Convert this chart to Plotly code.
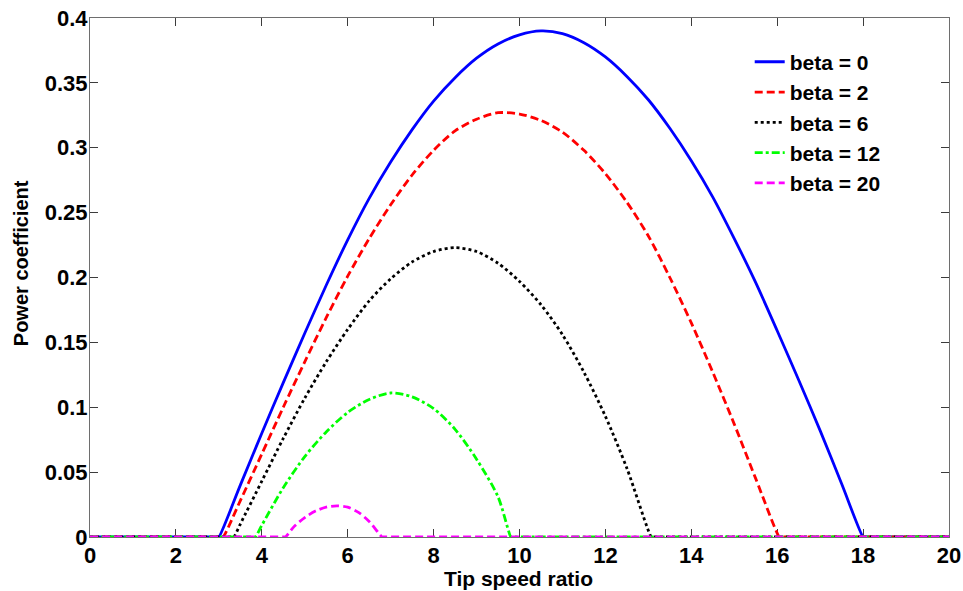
import plotly.graph_objects as go

# Power coefficient vs tip speed ratio for several blade pitch angles.
# Each curve is zero outside its operating range; the zero stretch is kept
# as two close points at each end so the smoothed line keeps its sharp corner.
tsr_b0 = [0, 2.98, 3.0, 3.5, 4.0, 4.5, 5.0, 5.5, 6.0, 6.5, 7.0, 7.5, 8.0, 8.5, 9.0, 9.5,
          10.0, 10.5, 11.0, 11.5, 12.0, 12.5, 13.0, 13.5, 14.0, 14.5, 15.0, 15.5, 16.0,
          16.5, 17.0, 17.5, 18.0, 18.02, 20]
cp_b0 = [0, 0, 0, 0.040, 0.080, 0.119, 0.157, 0.194, 0.229, 0.261, 0.289, 0.314, 0.336,
         0.354, 0.369, 0.380, 0.387, 0.390, 0.388, 0.381, 0.370, 0.355, 0.337, 0.315,
         0.290, 0.262, 0.230, 0.196, 0.159, 0.121, 0.082, 0.041, 0, 0, 0]

tsr_b2 = [0, 3.08, 3.1, 3.5, 4.0, 4.5, 5.0, 5.5, 6.0, 6.5, 7.0, 7.5, 8.0, 8.5, 9.0, 9.5,
          10.0, 10.5, 11.0, 11.5, 12.0, 12.5, 13.0, 13.5, 14.0, 14.5, 15.0, 15.5, 16.05,
          16.07, 20]
cp_b2 = [0, 0, 0, 0.028, 0.064, 0.100, 0.135, 0.169, 0.201, 0.230, 0.256, 0.279, 0.298,
         0.313, 0.322, 0.327, 0.326, 0.321, 0.312, 0.298, 0.280, 0.258, 0.232, 0.200,
         0.165, 0.127, 0.087, 0.045, 0, 0, 0]

tsr_b6 = [0, 3.33, 3.35, 3.5, 4.0, 4.5, 5.0, 5.5, 6.0, 6.5, 7.0, 7.5, 8.0, 8.5, 9.0, 9.5,
          10.0, 10.5, 11.0, 11.5, 12.0, 12.5, 13.07, 13.09, 20]
cp_b6 = [0, 0, 0, 0.010, 0.043, 0.076, 0.107, 0.135, 0.160, 0.182, 0.199, 0.212, 0.220,
         0.223, 0.220, 0.211, 0.197, 0.179, 0.156, 0.127, 0.093, 0.053, 0, 0, 0]

tsr_b12 = [0, 3.83, 3.85, 4.0, 4.5, 5.0, 5.5, 6.0, 6.5, 7.0, 7.5, 8.0, 8.5, 9.0, 9.5,
           9.8, 9.82, 20]
cp_b12 = [0, 0, 0, 0.009, 0.038, 0.062, 0.081, 0.096, 0.106, 0.111, 0.108, 0.099, 0.083,
          0.060, 0.031, 0, 0, 0]

tsr_b20 = [0, 4.53, 4.55, 4.75, 5.0, 5.25, 5.5, 5.75, 6.0, 6.25, 6.5, 6.8, 6.82, 20]
cp_b20 = [0, 0, 0, 0.008, 0.015, 0.020, 0.023, 0.024, 0.023, 0.019, 0.012, 0, 0, 0]

series_names = ["beta = 0", "beta = 2", "beta = 6", "beta = 12", "beta = 20"]
x_ticks = [0, 2, 4, 6, 8, 10, 12, 14, 16, 18, 20]
y_ticks = [0, 0.05, 0.1, 0.15, 0.2, 0.25, 0.3, 0.35, 0.4]
y_tick_labels = ["0", "0.05", "0.1", "0.15", "0.2", "0.25", "0.3", "0.35", "0.4"]

FONT = "Liberation Sans, Arial, Helvetica, sans-serif"
LW = 2.8

styles = [
    dict(color="rgb(0,0,255)", dash="solid"),
    dict(color="rgb(255,0,0)", dash="8px,4px"),
    dict(color="rgb(0,0,0)", dash="3px,3px"),
    dict(color="rgb(0,255,0)", dash="8px,3px,3px,3px"),
    dict(color="rgb(255,0,255)", dash="8px,4px"),
]
xs = [tsr_b0, tsr_b2, tsr_b6, tsr_b12, tsr_b20]
ys = [cp_b0, cp_b2, cp_b6, cp_b12, cp_b20]

fig = go.Figure()
for name, x, y, st in zip(series_names, xs, ys, styles):
    fig.add_trace(go.Scatter(
        x=x, y=y, mode="lines", name=name,
        line=dict(color=st["color"], dash=st["dash"], width=LW,
                  shape="spline", smoothing=0.8),
    ))

axis_common = dict(
    showline=True, linecolor="rgb(110,110,110)", linewidth=1, mirror="ticks",
    ticks="inside", ticklen=8, tickwidth=1, tickcolor="rgb(60,60,60)",
    showgrid=False, zeroline=False, layer="below traces", automargin=False,
    tickfont=dict(family=FONT, size=22, color="black", weight="bold"),
)

title_font = dict(family=FONT, color="black", weight="bold")

fig.update_layout(
    width=963, height=591,
    margin=dict(l=90, r=14, t=18, b=54),
    paper_bgcolor="white", plot_bgcolor="white",
    showlegend=True,
    legend=dict(
        x=0.768, y=0.9545, xanchor="left", yanchor="top",
        bgcolor="rgba(0,0,0,0)", borderwidth=0,
        font=dict(family=FONT, size=21, color="black", weight="bold"),
        tracegroupgap=0,
    ),
    xaxis=dict(
        range=[0, 20], tickvals=x_ticks, ticktext=[str(v) for v in x_ticks],
        ticklabelstandoff=-1,
        **axis_common,
    ),
    yaxis=dict(
        range=[0, 0.4], tickvals=y_ticks, ticktext=y_tick_labels,
        ticklabelstandoff=-3,
        **axis_common,
    ),
    annotations=[
        dict(text="Tip speed ratio", showarrow=False,
             xref="paper", yref="paper", x=0.499, y=-0.079,
             xanchor="center", yanchor="middle",
             font=dict(size=21, **title_font)),
        dict(text="Power coefficient", textangle=-90, showarrow=False,
             xref="paper", yref="paper", x=-0.0795, y=0.527,
             xanchor="center", yanchor="middle",
             font=dict(size=20, **title_font)),
    ],
)

fig.write_html("out.html")
